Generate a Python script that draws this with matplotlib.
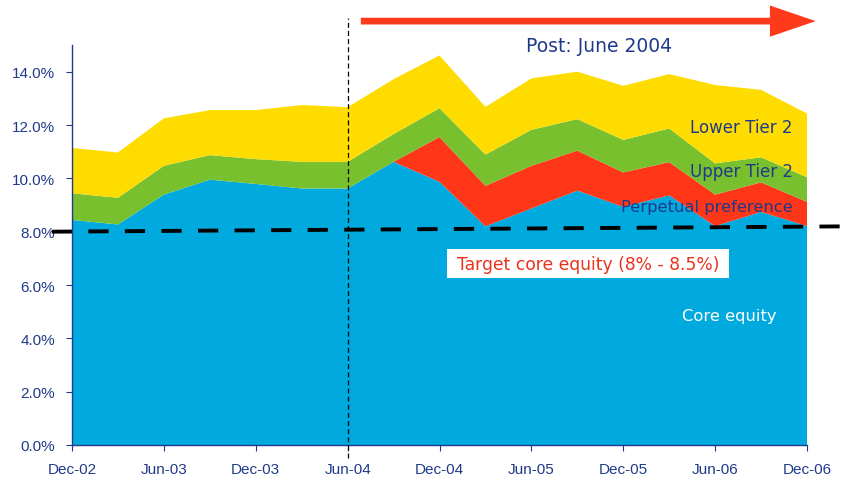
import numpy as np
import matplotlib.pyplot as plt
from matplotlib.patches import FancyArrow, Rectangle

quarters = ['Dec-02', 'Mar-03', 'Jun-03', 'Sep-03', 'Dec-03', 'Mar-04', 'Jun-04', 'Sep-04',
            'Dec-04', 'Mar-05', 'Jun-05', 'Sep-05', 'Dec-05', 'Mar-06', 'Jun-06', 'Sep-06', 'Dec-06']

core_equity = [8.44, 8.27, 9.39, 9.95, 9.79, 9.62, 9.62, 10.62, 9.87, 8.20, 8.87, 9.54,
               8.93, 9.36, 8.21, 8.74, 8.21]
perpetual_pref = [0, 0, 0, 0, 0, 0, 0, 0, 1.68, 1.52, 1.60, 1.50, 1.29, 1.25, 1.18, 1.11, 0.91]
upper_tier2 = [1.00, 1.00, 1.08, 0.92, 0.93, 1.00, 1.00, 1.04, 1.08, 1.17, 1.35, 1.18,
               1.22, 1.26, 1.17, 0.94, 0.92]
lower_tier2 = [1.70, 1.70, 1.78, 1.69, 1.84, 2.13, 2.05, 2.06, 1.98, 1.79, 1.93, 1.78,
               2.03, 2.04, 2.94, 2.53, 2.39]

target_line = [8.0, 8.2]  # dashed target, slightly tilted in the original
cutover = 'Jun-04'

navy = '#1f3a8a'
colors = ['#00aadf', '#ff3617', '#78c02e', '#fedc00']

x = np.arange(len(quarters))

fig = plt.figure(figsize=(8.47, 4.81), dpi=100)
ax = fig.add_axes([0.085, 0.0728, 0.8678, 0.8315])

ax.stackplot(x, core_equity, perpetual_pref, upper_tier2, lower_tier2,
             colors=colors, linewidth=0)

ax.set_xlim(0, len(quarters) - 1)
ax.set_ylim(0, 15)
ax.set_xticks(x[::2])
ax.set_xticklabels(quarters[::2])
ax.set_yticks(np.arange(0, 15, 2))
ax.set_yticklabels(['%.1f%%' % v for v in np.arange(0, 15, 2)])

for s in ['top', 'right']:
    ax.spines[s].set_visible(False)
for s in ['left', 'bottom']:
    ax.spines[s].set_color(navy)
    ax.spines[s].set_linewidth(1.0)
ax.tick_params(colors=navy, labelsize=11, length=4.5, width=0.8)
ax.tick_params(axis='x', pad=8)
ax.tick_params(axis='y', pad=7.5)
for lab in ax.get_xticklabels() + ax.get_yticklabels():
    lab.set_family('Liberation Sans')
    lab.set_color(navy)

# target core equity dashed line
ax.plot([-0.44, 16.88], target_line, color='black', lw=2.8, ls=(0, (5.2, 4.2)),
        clip_on=False, zorder=5)

# June 2004 divider
xc = quarters.index(cutover)
ax.plot([xc, xc], [-0.5, 16.0], color='black', lw=0.9, ls=(0, (4, 2.5)),
        clip_on=False, zorder=5)

# red arrow along the top
arrow = FancyArrow(0.426, 0.954, 0.537, 0, width=0.014, head_width=0.065,
                   head_length=0.054, length_includes_head=True,
                   color='#ff3a1a', transform=fig.transFigure, lw=0)
fig.patches.append(arrow)

fig.text(0.707, 0.904, 'Post: June 2004', color=navy, fontsize=13.5,
         ha='center', va='center')

ax.text(14.57, 11.92, 'Lower Tier 2', color=navy, fontsize=12, ha='center', va='center')
ax.text(14.57, 10.27, 'Upper Tier 2', color=navy, fontsize=12, ha='center', va='center')
ax.text(13.81, 8.96, 'Perpetual preference', color=navy, fontsize=11.8,
        ha='center', va='center')
ax.add_patch(Rectangle((8.17, 6.26), 6.14, 1.09, fc='white', ec='none', zorder=4))
ax.text(11.24, 6.8, 'Target core equity (8% - 8.5%)', color='#e8321c', fontsize=12.3,
        ha='center', va='center', zorder=6)
ax.text(14.31, 4.87, 'Core equity', color='white', fontsize=11.8, ha='center', va='center')

fig.savefig('out.png', dpi=100)
